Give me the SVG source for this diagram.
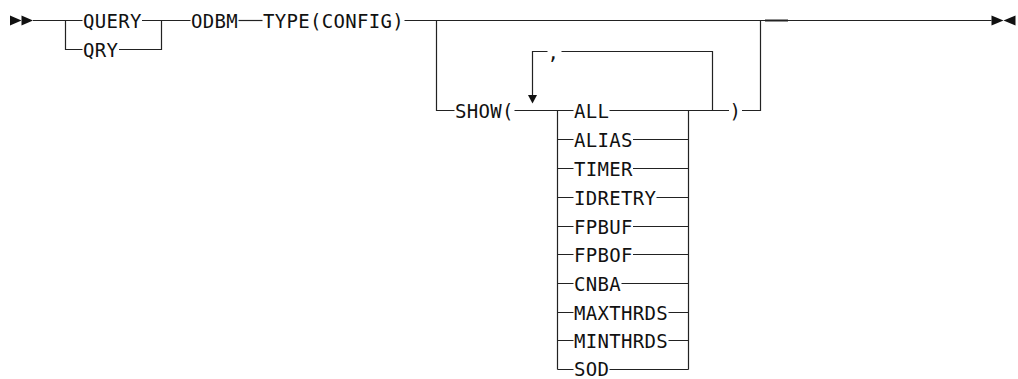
<svg xmlns="http://www.w3.org/2000/svg" width="1018" height="379" viewBox="0 0 1018 379">
<style>
.t{font-family:"DejaVu Sans Mono","Liberation Mono",monospace;font-size:19px;letter-spacing:0.3px;fill:#111}
.c{fill:none;stroke:#222;stroke-width:1.2}
.a{fill:#111;stroke:none}
</style>
<rect width="1018" height="379" fill="#fff"/>
<g id="connectors">
<polygon class="a" points="10,15.5 21.5,20.5 10,25.5"/>
<polygon class="a" points="21.5,15.5 33,20.5 21.5,25.5"/>
<path class="c" d="M33 20.5 H82.5"/>
<path class="c" d="M65.5 20.5 V49.5 H82.5"/>
<path class="c" d="M142 20.5 H190.5"/>
<path class="c" d="M119 49.5 H161.5 V20.5"/>
<path class="c" d="M238.5 20.5 H262.5"/>
<path class="c" d="M404.5 20.5 H991.5"/>
<path class="c" d="M765 20.5 H788" style="stroke-width:2"/>
<polygon class="a" points="991.5,15.5 1003.5,20.5 991.5,25.5"/>
<polygon class="a" points="1015.5,15.5 1003.5,20.5 1015.5,25.5"/>
<path class="c" d="M436.5 20.5 V110.5 H454.5"/>
<path class="c" d="M514.5 110.5 H573.5"/>
<path class="c" d="M557.5 110.5 V369.5"/>
<path class="c" d="M688.5 110.5 V369.5"/>
<path class="c" d="M609.5 110.5 H729"/>
<path class="c" d="M742 110.5 H760.5 V20.5"/>
<path class="c" d="M712.5 110.5 V51.5 H561.5"/>
<path class="c" d="M547.5 51.5 H532.5 V95"/>
<polygon class="a" points="528,95 537,95 532.5,103.5"/>
<path class="c" d="M557.5 139.5 H573.5 M633 139.5 H688.5"/>
<path class="c" d="M557.5 168.5 H573.5 M633 168.5 H688.5"/>
<path class="c" d="M557.5 197.5 H573.5 M656.5 197.5 H688.5"/>
<path class="c" d="M557.5 226.5 H573.5 M633 226.5 H688.5"/>
<path class="c" d="M557.5 254.5 H573.5 M633 254.5 H688.5"/>
<path class="c" d="M557.5 283.5 H573.5 M621.5 283.5 H688.5"/>
<path class="c" d="M557.5 312.5 H573.5 M668.5 312.5 H688.5"/>
<path class="c" d="M557.5 340.5 H573.5 M668.5 340.5 H688.5"/>
<path class="c" d="M557.5 369.5 H573.5 M609.5 369.5 H688.5"/>
</g>
<g id="query"><text class="t" x="83" y="27.5">QUERY</text></g>
<g id="qry"><text class="t" x="83" y="56.5">QRY</text></g>
<g id="odbm"><text class="t" x="191" y="27.5">ODBM</text></g>
<g id="type"><text class="t" x="263" y="27.5">TYPE(CONFIG)</text></g>
<g id="show"><text class="t" x="455" y="117.5">SHOW(</text></g>
<g id="sep"><text class="t" x="547.5" y="58.5">,</text></g>
<g id="close"><text class="t" x="729.5" y="117.5">)</text></g>
<g id="all"><text class="t" x="574" y="117.5">ALL</text></g>
<g id="alias"><text class="t" x="574" y="146.5">ALIAS</text></g>
<g id="timer"><text class="t" x="574" y="175.5">TIMER</text></g>
<g id="idretry"><text class="t" x="574" y="204.5">IDRETRY</text></g>
<g id="fpbuf"><text class="t" x="574" y="233.5">FPBUF</text></g>
<g id="fpbof"><text class="t" x="574" y="261.5">FPBOF</text></g>
<g id="cnba"><text class="t" x="574" y="290.5">CNBA</text></g>
<g id="maxthrds"><text class="t" x="574" y="319.5">MAXTHRDS</text></g>
<g id="minthrds"><text class="t" x="574" y="347.5">MINTHRDS</text></g>
<g id="sod"><text class="t" x="574" y="376">SOD</text></g>
</svg>
